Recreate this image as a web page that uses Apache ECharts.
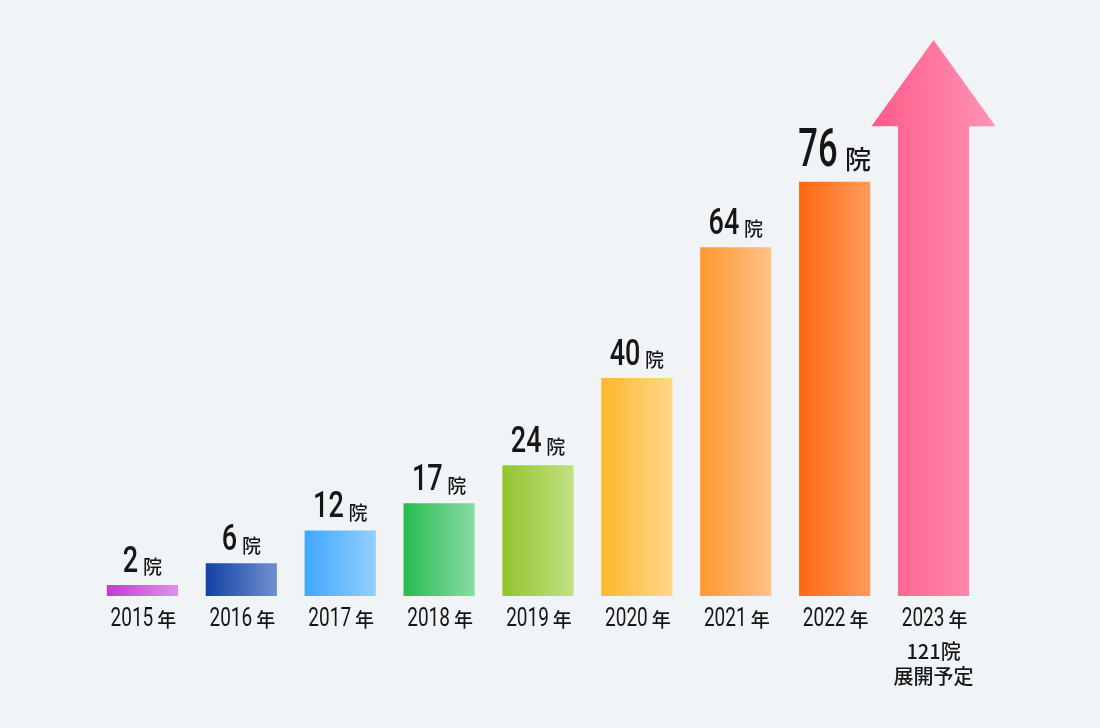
<!DOCTYPE html>
<html><head><meta charset="utf-8">
<script src="https://cdn.jsdelivr.net/npm/echarts@6/dist/echarts.min.js"></script>
<style>html,body{margin:0;padding:0;background:#f0f4f7;}#c{width:1100px;height:728px;}</style>
</head><body><div id="c"></div>
<script>
const years = ['2015','2016','2017','2018','2019','2020','2021','2022','2023'];
const clinics = [2, 6, 12, 17, 24, 40, 64, 76];
const plannedClinics = 121;
const plannedText = '展開予定';
const unitClinic = '院';
const unitYear = '年';
const arrowHeadBase = 86.2;   // value where the arrow head starts
const arrowTip = 102;         // value at the arrow tip
const gradients = [
  ['#c13bd2', '#dd93ea'],
  ['#1240a6', '#7090d0'],
  ['#3fa7ff', '#94cfff'],
  ['#27bb52', '#88dca3'],
  ['#93c42c', '#c2e183'],
  ['#ffb72e', '#ffd888'],
  ['#ff982e', '#ffc289'],
  ['#ff6711', '#ff9b5c'],
  ['#ff5a89', '#ff94b5']
];
function grad(c){return {type:'linear',x:0,y:0,x2:1,y2:0,colorStops:[{offset:0,color:c[0]},{offset:1,color:c[1]}]};}
const numFont = 'Roboto, "Liberation Sans", sans-serif';
const cjk = '"Noto Sans CJK JP", sans-serif';
const ink = '#161616';

// pair of texts: condensed digits + CJK unit, centred on cx
function pair(cx, cy, digits, fsD, sx, unit, fsU, gap, dyU, weightD){
  const dw = digits.length*0.562*fsD*sx;
  const W = dw + gap + fsU;
  const left = cx - W/2;
  return [
    {type:'text', x:left, y:cy, scaleX:sx, scaleY:1,
      style:{text:digits, font:(weightD||500)+' '+fsD+'px '+numFont, fill:ink, align:'left', verticalAlign:'middle'}},
    {type:'text', x:left+dw+gap, y:cy+dyU,
      style:{text:unit, font:'500 '+fsU+'px '+cjk, fill:ink, align:'left', verticalAlign:'middle'}}
  ];
}

const chart = echarts.init(document.getElementById('c'));
chart.setOption({
  backgroundColor:'#f0f4f7',
  animation:false,
  grid:{left:93,right:117,top:40,bottom:132},
  xAxis:{type:'category',data:years,axisLine:{show:false},axisTick:{show:false},axisLabel:{show:false}},
  yAxis:{type:'value',min:0,max:102,show:false,splitLine:{show:false}},
  series:[{
    type:'bar',barWidth:'72%',
    data:clinics.map((v,i)=>({value:v,itemStyle:{color:grad(gradients[i])}}))
  },{
    type:'custom',
    data:[[8, arrowHeadBase, arrowTip]],
    renderItem:function(params,api){
      const idx=api.value(0);
      const base=api.coord([idx,0]);
      const head=api.coord([idx,api.value(1)]);
      const tip=api.coord([idx,api.value(2)]);
      const band=api.size([1,0])[0];
      const sw=band*0.72/2, hw=band*1.255/2;
      const cx=base[0];
      const pts=[[cx-sw,base[1]],[cx-sw,head[1]],[cx-hw,head[1]],[cx,tip[1]],[cx+hw,head[1]],[cx+sw,head[1]],[cx+sw,base[1]]];
      return {type:'polygon',shape:{points:pts},style:{fill:grad(gradients[8])}};
    }
  },{
    type:'custom', silent:true, clip:false, z:10,
    data:years.map((y,i)=>[i, i<clinics.length?clinics[i]:0]),
    renderItem:function(params,api){
      const i=params.dataIndex;
      const base=api.coord([i,0]);
      const cx=base[0];
      let children=[];
      // year label
      children=children.concat(pair(cx+1, base[1]+24, years[i], 25, 0.76, unitYear, 19, 4, 0, 400));
      if(i<clinics.length){
        const top=api.coord([i,clinics[i]]);
        if(i===7){
          children=children.concat(pair(cx, top[1]-29.5, String(clinics[i]), 54, 0.64, unitClinic, 26, 8, 7, 500));
        } else {
          children=children.concat(pair(cx, top[1]-22.5, String(clinics[i]), 37, 0.73, unitClinic, 19, 5, 4.5, 500));
        }
      } else {
        children.push({type:'text', x:cx, y:base[1]+55,
          style:{text:plannedClinics+unitClinic, font:'500 20px '+cjk, fill:ink, align:'center', verticalAlign:'middle'}});
        children.push({type:'text', x:cx, y:base[1]+80,
          style:{text:plannedText, font:'500 20px '+cjk, fill:ink, align:'center', verticalAlign:'middle'}});
      }
      return {type:'group', children:children};
    }
  }]
});
</script></body></html>
